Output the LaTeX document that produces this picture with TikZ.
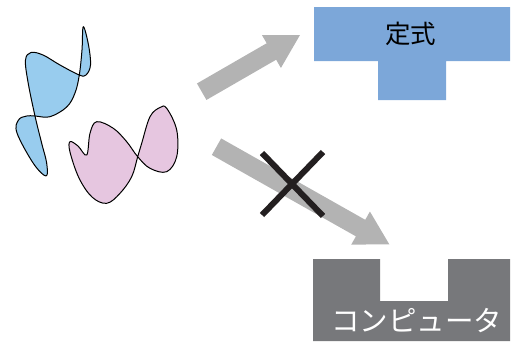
\documentclass[tikz,border=0pt]{standalone}
\usepackage{fontspec}
\newfontfamily\cjk{Noto Sans CJK JP}
\usetikzlibrary{calc}
\definecolor{blobblue}{RGB}{152,204,238}
\definecolor{blobpink}{RGB}{230,198,224}
\definecolor{boxblue}{RGB}{124,167,217}
\definecolor{boxgray}{RGB}{119,120,123}
\definecolor{arrowgray}{RGB}{179,179,179}
\definecolor{xblack}{RGB}{35,31,32}
\newcommand\fatarrow[2]{%
 \coordinate (#1-h) at ($(#2)!33pt!(#1)$);
 \fill[arrowgray] ($(#1)!9.5pt!90:(#2)$) -- ($(#1-h)!9.5pt!90:(#2)$) -- ($(#1-h)!19pt!90:(#2)$) -- (#2) -- ($(#1-h)!19pt!-90:(#2)$) -- ($(#1-h)!9.5pt!-90:(#2)$) -- ($(#1)!9.5pt!-90:(#2)$) -- cycle;}
\tikzset{
  blob/.style={draw=black, line width=1pt, line join=round},
  crossline/.style={draw=xblack, line width=6pt},
}
\begin{document}
\begin{tikzpicture}[x=1pt,y=-1pt]
\useasboundingbox (0,0) rectangle (511,341);
% blobs
\draw[blob, fill=blobblue] plot[smooth cycle, tension=0.6] coordinates {
(83.3,26.7) (88.5,45) (90.5,65) (86,75) (79.3,75) (60,65) (43,55) (31,52.5) (25.5,60) (28,82) (35,116) (41.7,143.3) (46.7,163.3) (46,176) (33.3,163.3) (17,133) (18.5,120) (26.7,116) (35,116) (50,116.7) (66.7,107) (75,93) (79.3,75) (82,50)};
\draw[blob, fill=blobpink] plot[smooth cycle, tension=0.6] coordinates {
(70,141.7) (78,146) (86.7,155) (90,133.3) (96.7,121.7) (113.3,128.3) (126.7,141.7) (137.7,156.7) (150,168.3) (166.7,171.7) (176.7,156.7) (176.7,130) (166.7,108.3) (160,107.5) (150,116.7) (141.7,143.3) (137.7,156.7) (131.7,176.7) (120,193.3) (106.7,203.3) (92,197) (79,178) (70,152)};
% boxes
\fill[boxblue] (314,7) -- (510,7) -- (510,61) -- (446,61) -- (446,100) -- (378,100) -- (378,61) -- (314,61) -- cycle;
\fill[boxgray] (313,259) -- (380,259) -- (380,301) -- (448,301) -- (448,259) -- (510,259) -- (510,341) -- (313,341) -- cycle;
\node[text=black, font=\cjk\fontsize{25.5}{25.5}\selectfont, inner sep=0pt] (teishiki) at (410.5,34) {定式};
\node[text=white, font=\cjk\fontsize{28.5}{28.5}\selectfont, inner sep=0pt] (computer) at (416.5,320.5) {コンピュータ};
% arrows
\coordinate (a1) at (201.7,91.7);
\coordinate (a1tip) at (300,35);
\coordinate (a2) at (216.5,146.7);
\coordinate (a2tip) at (389.3,244.3);
\fatarrow{a1}{a1tip}
\fatarrow{a2}{a2tip}
% cross
\coordinate (x1) at (262,153);
\coordinate (x2) at (323,216);
\coordinate (x3) at (323,152);
\coordinate (x4) at (262,215);
\draw[crossline] (x1) -- (x2);
\draw[crossline] (x3) -- (x4);
\end{tikzpicture}
\end{document}
